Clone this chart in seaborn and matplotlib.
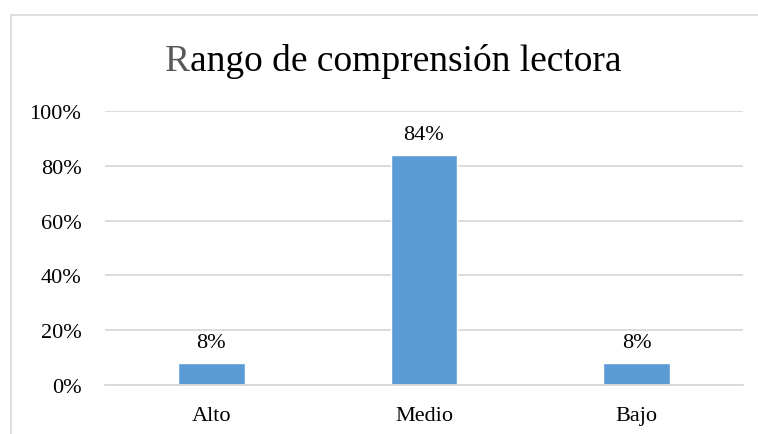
import matplotlib
matplotlib.use("Agg")
import matplotlib.pyplot as plt
from matplotlib.patches import Rectangle
import seaborn as sns
import pandas as pd

categories = ["Alto", "Medio", "Bajo"]
values = [0.08, 0.84, 0.08]
value_labels = ["8%", "84%", "8%"]
yticks = [0, 0.2, 0.4, 0.6, 0.8, 1.0]
ytick_labels = ["0%", "20%", "40%", "60%", "80%", "100%"]

sns.set_theme(style="white")
plt.rcParams["font.family"] = ["Liberation Serif", "DejaVu Serif"]

fig = plt.figure(figsize=(7.58, 4.35), dpi=100)
ax = fig.add_axes([105 / 758, 1 - 386 / 435, 638 / 758, 274 / 435])

df = pd.DataFrame({"cat": categories, "val": values})
sns.barplot(data=df, x="cat", y="val", color="#5b9bd5", width=0.315,
            saturation=1, ax=ax)

ax.set_ylim(0, 1.0)
ax.set_xlim(-0.5, 2.5)
ax.set_yticks(yticks)
ax.set_yticklabels(ytick_labels)
ax.set_xlabel("")
ax.set_ylabel("")
ax.yaxis.grid(True, color="#d9d9d9", linewidth=1.3)
ax.set_axisbelow(True)
for side in ["top", "right", "left"]:
    ax.spines[side].set_visible(False)
ax.spines["bottom"].set_color("#d9d9d9")
ax.spines["bottom"].set_linewidth(1.3)
ax.tick_params(axis="y", length=0, pad=17, labelsize=16, colors="#000000")
ax.tick_params(axis="x", length=0, pad=15, labelsize=16, colors="#000000")

# data labels
for i, (v, lab) in enumerate(zip(values, value_labels)):
    ax.annotate(lab, xy=(i, v), xytext=(0, 8), textcoords="offset points",
                ha="center", va="bottom", fontsize=16, color="#000000")

# chart border (left and top edges visible)
fig.patches.append(Rectangle((11 / 758, -0.1), 1.2, 1 - 16 / 435 + 0.1,
                             transform=fig.transFigure, fill=False,
                             edgecolor="#d9d9d9", linewidth=1.2))

# title with grey first letter
r = fig.text(165 / 758, 1 - 71 / 435, "R", fontsize=27, color="#595959",
             ha="left", va="baseline")
ax.annotate("ango de comprensión lectora", xy=(1, 0), xycoords=r,
            ha="left", va="bottom", fontsize=27, color="#000000",
            annotation_clip=False)

fig.savefig("out.png", dpi=100)
